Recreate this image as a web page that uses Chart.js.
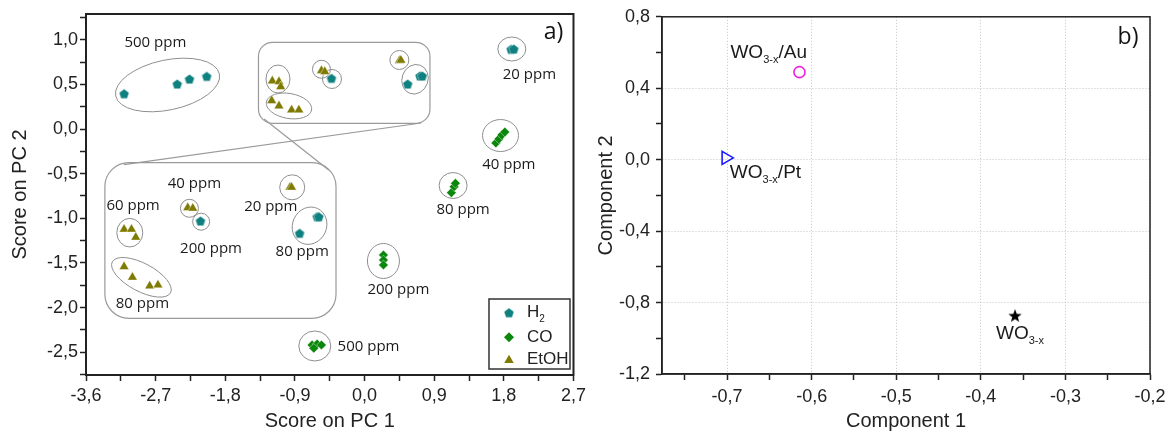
<!DOCTYPE html>
<html>
<head>
<meta charset="utf-8">
<script src="https://cdn.jsdelivr.net/npm/chart.js@4.4.1/dist/chart.umd.min.js"></script>
<style>
  html, body { margin: 0; padding: 0; background: #fff; }
  #wrap { position: relative; width: 1174px; height: 439px; }
  canvas { position: absolute; top: 0; }
  #pca { left: 0; }
  #comp { left: 590px; }
</style>
</head>
<body>
<div id="wrap">
  <canvas id="pca" width="590" height="439"></canvas>
  <canvas id="comp" width="584" height="439"></canvas>
</div>
<script>
/* ================= DATA: panel a (PCA scores) ================= */
const pc1Range = [-3.6, 2.7];
const pc2Range = [-2.755, 1.288];
const pc1Ticks = [-3.6, -3.15, -2.7, -2.25, -1.8, -1.35, -0.9, -0.45, 0, 0.45, 0.9, 1.35, 1.8, 2.25, 2.7];
const pc1Labels = [-3.6, -2.7, -1.8, -0.9, 0, 0.9, 1.8, 2.7];
const pc2Ticks = [-2.75, -2.5, -2.25, -2, -1.75, -1.5, -1.25, -1, -0.75, -0.5, -0.25, 0, 0.25, 0.5, 0.75, 1, 1.25];
const pc2Labels = [-2.5, -2, -1.5, -1, -0.5, 0, 0.5, 1];

const gasNames = ["H", "CO", "EtOH"];   // H gets its subscript 2 when drawn

// [PC1, PC2]
const h2Scores = [
  [-3.108, 0.395], [-2.421, 0.504], [-2.263, 0.56], [-2.04, 0.59],   // 500 ppm
  [-0.428, 0.568],                                                   // 200 ppm
  [0.557, 0.504], [0.716, 0.594], [0.746, 0.594],                    // 80 ppm
  [1.894, 0.893], [1.928, 0.896]                                     // 20 ppm
];
const coScores = [
  [1.697, -0.157], [1.736, -0.112], [1.774, -0.067], [1.813, -0.034], // 40 ppm
  [1.122, -0.713], [1.157, -0.646], [1.174, -0.608],                 // 80 ppm
  [0.244, -1.411], [0.244, -1.467], [0.244, -1.523],                 // 200 ppm
  [-0.678, -2.419], [-0.613, -2.408], [-0.557, -2.419], [-0.656, -2.456] // 500 ppm
];
const etohScores = [
  [-1.192, 0.538], [-1.106, 0.53], [-1.084, 0.474],                  // 60 ppm
  [-1.2, 0.317], [-1.106, 0.258], [-0.943, 0.213], [-0.849, 0.213],  // 80 ppm
  [-0.557, 0.653], [-0.514, 0.642],                                  // 40 ppm
  [0.45, 0.765], [0.47, 0.77]                                        // 20 ppm
];
// magnified copies shown in the lower inset
const h2Zoomed = [[-2.121, -1.03], [-0.613, -0.982], [-0.591, -0.982], [-0.84, -1.168]];
const etohZoomed = [
  [-3.108, -1.123], [-3.012, -1.123], [-2.957, -1.213],
  [-2.285, -0.881], [-2.22, -0.888],
  [-0.964, -0.653], [-0.943, -0.653],
  [-3.108, -1.542], [-3.0, -1.661], [-2.777, -1.758], [-2.67, -1.747]
];

/* ================= DATA: panel b (components) ================= */
const comp1Range = [-0.777, -0.2];
const comp2Range = [-1.2, 0.8];
const comp1Ticks = [-0.75, -0.7, -0.65, -0.6, -0.55, -0.5, -0.45, -0.4, -0.35, -0.3, -0.25, -0.2];
const comp1Labels = [-0.7, -0.6, -0.5, -0.4, -0.3, -0.2];
const comp2Ticks = [-1.2, -1.0, -0.8, -0.6, -0.4, -0.2, 0, 0.2, 0.4, 0.6, 0.8];
const comp2Labels = [-1.2, -0.8, -0.4, 0, 0.4, 0.8];

const sampleNames = [["WO", "3-x", "/Au"], ["WO", "3-x", "/Pt"], ["WO", "3-x", ""]];
const sampleComp1 = [-0.6145, -0.7015, -0.3596];
const sampleComp2 = [0.49, 0.01, -0.873];

/* ================= DECORATION (panel a) ================= */
// group rings: centre in data units, radii px, tilt deg
const groupRings = [
  [-2.546, 0.493, 53, 25, -12],
  [-1.119, 0.56, 12, 14, 0],
  [-0.977, 0.258, 23, 12.5, 10],
  [-0.557, 0.669, 9, 9, 0],
  [-0.421, 0.56, 9.5, 9.5, 0],
  [0.45, 0.773, 9.5, 9.5, 0],
  [0.652, 0.557, 13, 15, 20],
  [1.903, 0.896, 14, 12, 0],
  [1.757, -0.073, 18, 16, 0],
  [1.144, -0.633, 14, 13, 0],
  [0.244, -1.478, 16, 17.5, 0],
  [-0.643, -2.43, 16, 15, 0],
  [-3.034, -1.161, 13, 14.3, 0],
  [-2.263, -0.888, 9, 9, 0],
  [-2.112, -1.038, 8.5, 8.5, 0],
  [-0.935, -0.653, 12.5, 12.5, 0],
  [-0.711, -1.083, 17, 19, 25],
  [-2.884, -1.661, 33, 14, 28]
];
const concLabels = [
  ["500 ppm", -2.704, 0.966], ["20 ppm", 2.13, 0.605], ["40 ppm", 1.864, -0.403],
  ["80 ppm", 1.273, -0.907], ["60 ppm", -2.992, -0.862], ["40 ppm", -2.199, -0.616],
  ["20 ppm", -1.212, -0.87], ["200 ppm", -1.984, -1.336], ["80 ppm", -0.806, -1.374],
  ["80 ppm", -2.871, -1.952], ["200 ppm", 0.437, -1.803], ["500 ppm", 0.051, -2.438]
];
const insetBoxes = [[-1.371, 0.971, 0.845, 0.064, 14], [-3.356, -0.377, -0.369, -2.12, 24]];
const insetLinks = [[-3.111, -0.398, 0.733, 0.067], [-1.299, 0.112, -0.463, -0.459]];

/* ================= HELPERS ================= */
const TEAL = "#0f8080", GREEN = "#0b870b", OLIVE = "#7f7a02";
const fmt = v => (Math.round(v * 10) / 10).toFixed(1).replace(".", ",");
const isMajor = (v, list) => list.some(m => Math.abs(m - v) < 1e-6);
const toPts = arr => arr.map(p => ({ x: p[0], y: p[1] }));

function makeMarker(size, draw) {
  const c = document.createElement("canvas");
  c.width = size; c.height = size;
  draw(c.getContext("2d"), size / 2);
  return c;
}
function starPath(g, cx, cy, r, n, inner) {
  g.beginPath();
  const count = inner ? n * 2 : n;
  for (let i = 0; i < count; i++) {
    const rr = inner && i % 2 ? r * inner : r;
    const a = -Math.PI / 2 + i * 2 * Math.PI / count;
    const px = cx + rr * Math.cos(a), py = cy + rr * Math.sin(a);
    i ? g.lineTo(px, py) : g.moveTo(px, py);
  }
  g.closePath();
}
const pentagon = makeMarker(12, (g, c) => {
  starPath(g, c, c + 0.5, 5.2, 5);
  g.fillStyle = TEAL; g.fill();
  g.strokeStyle = "rgba(255,255,255,0.55)"; g.lineWidth = 0.7; g.stroke();
});
const blackStar = makeMarker(16, (g, c) => {
  starPath(g, c, c + 0.6, 7, 5, 0.42);
  g.fillStyle = "#000"; g.fill();
});

function roundRect(ctx, x0, y0, x1, y1, r) {
  ctx.beginPath();
  ctx.moveTo(x0 + r, y0);
  ctx.arcTo(x1, y0, x1, y1, r);
  ctx.arcTo(x1, y1, x0, y1, r);
  ctx.arcTo(x0, y1, x0, y0, r);
  ctx.arcTo(x0, y0, x1, y0, r);
  ctx.closePath();
}
// text with a subscript part: [base, sub, tail]
function drawFormula(ctx, parts, x, y, size, subSize) {
  ctx.textBaseline = "middle";
  ctx.textAlign = "left";
  ctx.font = size + "px 'Liberation Sans'";
  ctx.fillText(parts[0], x, y);
  x += ctx.measureText(parts[0]).width;
  ctx.font = subSize + "px 'Liberation Sans'";
  ctx.fillText(parts[1], x, y + size * 0.38);
  x += ctx.measureText(parts[1]).width;
  ctx.font = size + "px 'Liberation Sans'";
  if (parts[2]) ctx.fillText(parts[2], x, y);
}

function axis(o) {
  return {
    type: "linear",
    position: o.position,
    min: o.range[0],
    max: o.range[1],
    afterBuildTicks: s => { s.ticks = o.ticks.map(v => ({ value: v })); },
    afterFit: s => { if (o.position === "left") s.width = o.size; else s.height = o.size; },
    ticks: {
      autoSkip: false,
      maxRotation: 0,
      padding: o.pad,
      color: "#222",
      font: { family: "Liberation Sans", size: 18 },
      callback: v => isMajor(v, o.labels) ? fmt(v) : ""
    },
    grid: {
      drawOnChartArea: o.gridOn,
      color: c => (c.tick && isMajor(c.tick.value, o.labels)) ? "#c4c4c4" : "rgba(0,0,0,0)",
      lineWidth: 1,
      tickColor: "#222",
      tickLength: 6,
      tickWidth: 1.5
    },
    border: { color: "#222", width: o.borderW, dash: [1, 2] },
    title: {
      display: true,
      text: o.title,
      color: "#222",
      font: { family: "Liberation Sans", size: 20 },
      padding: o.position === "left" ? { top: o.titlePad } : { bottom: o.titlePad }
    }
  };
}

Chart.defaults.font.family = "Liberation Sans";

/* ================= PANEL a ================= */
const pcaDecor = {
  id: "pcaDecor",
  beforeDatasetsDraw(chart) {
    const { ctx, scales: { x, y } } = chart;
    ctx.save();
    ctx.strokeStyle = "#9a9a9a";
    ctx.lineWidth = 1.2;
    insetBoxes.forEach(([a0, b0, a1, b1, r]) => {
      roundRect(ctx, x.getPixelForValue(a0), y.getPixelForValue(b0), x.getPixelForValue(a1), y.getPixelForValue(b1), r);
      ctx.stroke();
    });
    insetLinks.forEach(([a0, b0, a1, b1]) => {
      ctx.beginPath();
      ctx.moveTo(x.getPixelForValue(a0), y.getPixelForValue(b0));
      ctx.lineTo(x.getPixelForValue(a1), y.getPixelForValue(b1));
      ctx.stroke();
    });
    ctx.strokeStyle = "#8e8e8e";
    ctx.lineWidth = 1;
    groupRings.forEach(([gx, gy, rx, ry, tilt]) => {
      ctx.beginPath();
      ctx.ellipse(x.getPixelForValue(gx), y.getPixelForValue(gy), rx, ry, tilt * Math.PI / 180, 0, Math.PI * 2);
      ctx.stroke();
    });
    ctx.restore();
  },
  afterDraw(chart) {
    const { ctx, chartArea: ca, scales: { x, y } } = chart;
    ctx.save();
    // frame
    ctx.strokeStyle = "#222";
    ctx.lineWidth = 2;
    ctx.strokeRect(ca.left, ca.top, ca.right - ca.left, ca.bottom - ca.top);
    // concentration labels
    ctx.fillStyle = "#1a1a1a";
    ctx.font = "15px 'Open Sans'";
    ctx.textAlign = "center";
    ctx.textBaseline = "middle";
    concLabels.forEach(([t, lx, ly]) => ctx.fillText(t, x.getPixelForValue(lx), y.getPixelForValue(ly)));
    // panel letter
    ctx.font = "23px 'Open Sans'";
    ctx.fillStyle = "#111";
    ctx.fillText("a)", ca.right - 20, ca.top + 18);
    // legend
    const bw = 81, bh = 70;
    const bx = ca.right - 3.5 - bw, by = ca.bottom - 6 - bh;
    ctx.fillStyle = "#fff";
    ctx.fillRect(bx, by, bw, bh);
    ctx.strokeStyle = "#333";
    ctx.lineWidth = 1.5;
    ctx.strokeRect(bx, by, bw, bh);
    const rows = [by + 13.7, by + 38.3, by + 60.3];
    const mx = bx + 20, tx = bx + 38;
    ctx.drawImage(pentagon, mx - 6, rows[0] - 6);
    ctx.fillStyle = GREEN;
    starPath(ctx, mx, rows[1], 5, 4);
    ctx.fill();
    ctx.fillStyle = OLIVE;
    starPath(ctx, mx, rows[2] + 1, 5.5, 3);
    ctx.fill();
    ctx.fillStyle = "#222";
    drawFormula(ctx, [gasNames[0], "2", ""], tx, rows[0], 17, 10);
    ctx.font = "17px 'Liberation Sans'";
    ctx.fillText(gasNames[1], tx, rows[1]);
    ctx.fillText(gasNames[2], tx, rows[2]);
    ctx.restore();
  }
};

const pentStyle = { pointStyle: pentagon, pointRadius: 5 };
const triStyle = { pointStyle: "triangle", pointRadius: 5.6, backgroundColor: OLIVE, borderColor: "rgba(255,255,255,0.6)", borderWidth: 0.7 };

new Chart(document.getElementById("pca"), {
  type: "scatter",
  data: {
    datasets: [
      Object.assign({ label: "EtOH", data: toPts(etohScores) }, triStyle),
      Object.assign({ label: "EtOH zoom", data: toPts(etohZoomed) }, triStyle),
      { label: "CO", data: toPts(coScores), pointStyle: "rectRot", pointRadius: 4.8, backgroundColor: GREEN, borderColor: "rgba(255,255,255,0.55)", borderWidth: 0.7 },
      Object.assign({ label: "H2", data: toPts(h2Scores) }, pentStyle),
      Object.assign({ label: "H2 zoom", data: toPts(h2Zoomed) }, pentStyle)
    ]
  },
  options: {
    responsive: false,
    devicePixelRatio: 1,
    animation: false,
    layout: { padding: { left: 0, right: 14, top: 14, bottom: 0 }, autoPadding: false },
    plugins: { legend: { display: false }, tooltip: { enabled: false } },
    scales: {
      x: axis({ position: "bottom", range: pc1Range, ticks: pc1Ticks, labels: pc1Labels, size: 64, pad: 4, gridOn: false, borderW: 2, title: "Score on PC 1", titlePad: 6 }),
      y: axis({ position: "left", range: pc2Range, ticks: pc2Ticks, labels: pc2Labels, size: 86, pad: 2, gridOn: false, borderW: 2, title: "Score on PC 2", titlePad: 8 })
    }
  },
  plugins: [pcaDecor]
});

/* ================= PANEL b ================= */
const labelOffsets = [[-69, -19], [4, 15], [-19, 18]];
const compDecor = {
  id: "compDecor",
  afterDraw(chart) {
    const { ctx, chartArea: ca, scales: { x, y } } = chart;
    ctx.save();
    ctx.strokeStyle = "#222";
    ctx.lineWidth = 1.5;
    ctx.strokeRect(ca.left, ca.top, ca.right - ca.left, ca.bottom - ca.top);
    ctx.fillStyle = "#1a1a1a";
    sampleNames.forEach((parts, i) => {
      const px = x.getPixelForValue(sampleComp1[i]) + labelOffsets[i][0];
      const py = y.getPixelForValue(sampleComp2[i]) + labelOffsets[i][1];
      drawFormula(ctx, parts, px, py, 19, 11);
    });
    ctx.font = "23px 'Open Sans'";
    ctx.textAlign = "center";
    ctx.textBaseline = "middle";
    ctx.fillStyle = "#111";
    ctx.fillText("b)", ca.right - 22, ca.top + 21);
    ctx.restore();
  }
};

const pt = i => [{ x: sampleComp1[i], y: sampleComp2[i] }];
new Chart(document.getElementById("comp"), {
  type: "scatter",
  data: {
    datasets: [
      { label: "Au", data: pt(0), pointStyle: "circle", pointRadius: 5.5, backgroundColor: "rgba(0,0,0,0)", borderColor: "#ee22dd", borderWidth: 1.6 },
      { label: "Pt", data: pt(1), pointStyle: "triangle", pointRotation: 90, pointRadius: 7.5, backgroundColor: "rgba(0,0,0,0)", borderColor: "#1a1aff", borderWidth: 1.6 },
      { label: "bare", data: pt(2), pointStyle: blackStar, pointRadius: 6 }
    ]
  },
  options: {
    responsive: false,
    devicePixelRatio: 1,
    animation: false,
    layout: { padding: { left: 0, right: 24, top: 16, bottom: 0 }, autoPadding: false },
    plugins: { legend: { display: false }, tooltip: { enabled: false } },
    scales: {
      x: axis({ position: "bottom", range: comp1Range, ticks: comp1Ticks, labels: comp1Labels, size: 65, pad: 6, gridOn: true, borderW: 1.5, title: "Component 1", titlePad: 6 }),
      y: axis({ position: "left", range: comp2Range, ticks: comp2Ticks, labels: comp2Labels, size: 72, pad: 6, gridOn: true, borderW: 1.5, title: "Component 2", titlePad: 4 })
    }
  },
  plugins: [compDecor]
});
</script>
</body>
</html>
